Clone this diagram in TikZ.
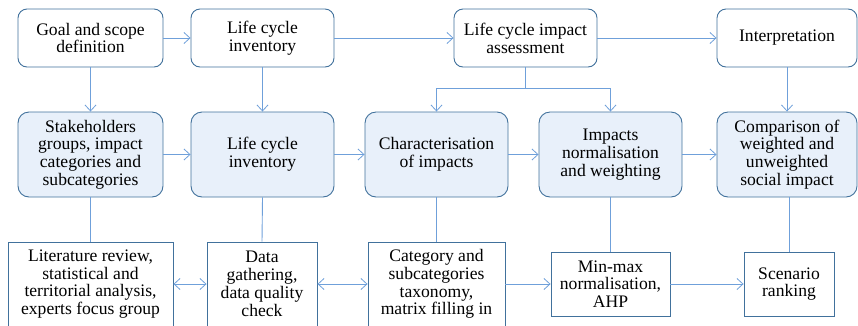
\documentclass[tikz,border=0pt]{standalone}
\usepackage{fontspec}
\setmainfont{Liberation Serif}
\usetikzlibrary{arrows.meta}
\definecolor{bord}{HTML}{41719C}
\definecolor{conn}{HTML}{6FA0DA}
\definecolor{mfill}{HTML}{E8F0FA}
\begin{document}
\begin{tikzpicture}[x=1pt,y=-1pt,
  every node/.style={font=\fontsize{17.6}{17.8}\selectfont, align=center, inner sep=0pt},
  topbox/.style={draw=bord, line width=0.9pt, rounded corners=9pt, fill=white, minimum height=58pt},
  midbox/.style={draw=bord, line width=0.9pt, rounded corners=11pt, fill=mfill, minimum height=85pt},
  botbox/.style={draw=bord, line width=0.9pt, fill=white},
  conline/.style={draw=conn, line width=0.9pt},
  arr/.style={conline, -{Straight Barb[length=6pt,width=11pt,line width=0.8pt]}},
  darr/.style={conline, {Straight Barb[length=6pt,width=11pt,line width=0.8pt]}-{Straight Barb[length=6pt,width=11pt,line width=0.8pt]}}
]
\useasboundingbox (0,0) rectangle (858,325);
\clip (0,0) rectangle (858,325);
% top row
\node[topbox, minimum width=145pt] (g) at (90.5,38) {Goal and scope\\definition};
\node[topbox, minimum width=143pt] (lci) at (262.5,38) {Life cycle\\inventory};
\node[topbox, minimum width=143pt] (lcia) at (525.5,38) {Life cycle impact\\assessment};
\node[topbox, minimum width=140pt] (int) at (787,38) {Interpretation};
% middle row
\node[midbox, minimum width=145pt] (s) at (90.5,154.5) {Stakeholders\\groups, impact\\categories and\\subcategories};
\node[midbox, minimum width=143pt] (m2) at (262.5,154.5) {Life cycle\\inventory};
\node[midbox, minimum width=143pt] (m3) at (436.5,154.5) {Characterisation\\of impacts};
\node[midbox, minimum width=143pt] (m4) at (610.5,154.5) {Impacts\\normalisation\\and weighting};
\node[midbox, minimum width=140pt] (m5) at (787,154.5) {Comparison of\\weighted and\\unweighted\\social impact};
% bottom row
\node[botbox, minimum width=165pt, minimum height=84pt] (b1) at (90.5,284) {Literature review,\\statistical and\\territorial analysis,\\experts focus group};
\node[botbox, minimum width=110pt, minimum height=84pt] (b2) at (262,284) {Data\\gathering,\\data quality\\check};
\node[botbox, minimum width=137pt, minimum height=84pt] (b3) at (436.5,284) {Category and\\subcategories\\taxonomy,\\matrix filling in};
\node[botbox, minimum width=119pt, minimum height=64pt] (b4) at (610.5,284) {Min-max\\normalisation,\\AHP};
\node[botbox, minimum width=90pt, minimum height=64pt] (b5) at (789,284) {Scenario\\ranking};
% top arrows
\draw[arr] (g) -- (lci);
\draw[arr] (lci) -- (lcia);
\draw[arr] (lcia) -- (int);
% middle arrows
\draw[arr] (s) -- (m2);
\draw[arr] (m2) -- (m3);
\draw[arr] (m3) -- (m4);
\draw[arr] (m4) -- (m5);
% bottom arrows
\draw[darr] (b1) -- (b2);
\draw[darr] (b2) -- (b3);
\draw[arr] (b3) -- (b4);
\draw[arr] (b4) -- (b5);
% vertical top to middle
\draw[arr] (g.south) -- (s.north);
\draw[arr] (lci.south) -- (m2.north);
\coordinate (split) at (525.5,88);
\draw[conline] (lcia.south) -- (split);
\draw[arr] (split) -| (m3.north);
\draw[arr] (split) -| (m4.north);
\draw[arr] (int.south) -- (m5.north);
% vertical middle to bottom
\draw[conline] (s.south) -- (b1.north);
\draw[conline] (m2.south) -- (b2.north);
\draw[conline] (m3.south) -- (b3.north);
\draw[conline] (m4.south) -- (b4.north);
\draw[conline] ([xshift=2pt]m5.south) -- ([xshift=2pt]m5.south |- b5.north);
\end{tikzpicture}
\end{document}
